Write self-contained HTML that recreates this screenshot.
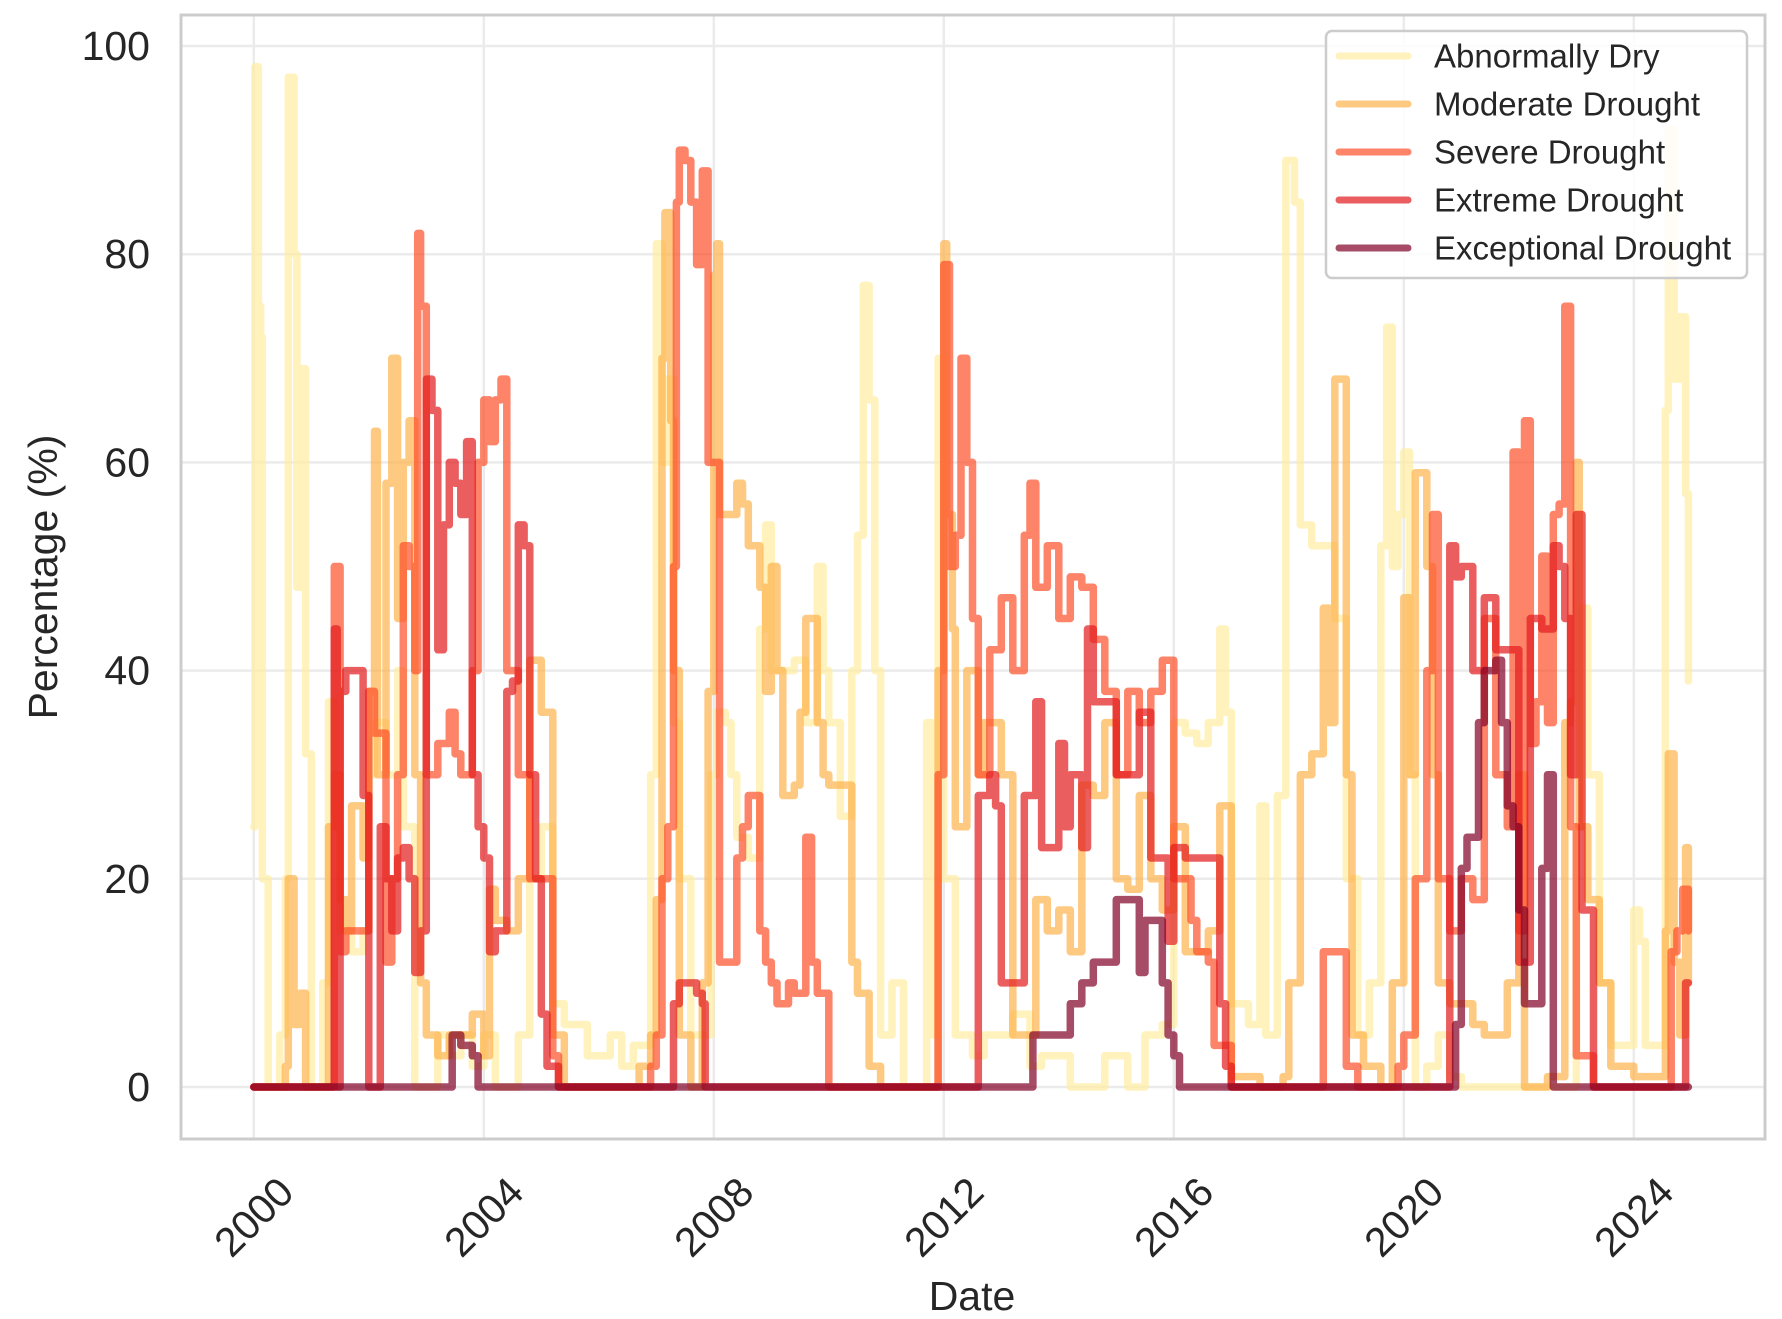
<!DOCTYPE html>
<html><head><meta charset="utf-8"><style>
html,body{margin:0;padding:0;background:#fff;}
svg{display:block;font-family:"Liberation Sans",Arial,sans-serif;}
</style></head><body>
<svg id="chart" width="1782" height="1319" viewBox="0 0 1782 1319">
<rect x="0" y="0" width="1782" height="1319" fill="#fff"/>
<g id="grid"></g>
<g id="series"></g>
<rect x="181" y="15" width="1584" height="1124" fill="none" stroke="#cccccc" stroke-width="3"/>
<g id="yticks"></g>
<g id="xticks"></g>
<text x="43" y="577" transform="rotate(-90 43 577)" text-anchor="middle" dominant-baseline="central" font-size="41" fill="#262626">Percentage (%)</text>
<text x="972" y="1296" text-anchor="middle" dominant-baseline="central" font-size="41" fill="#262626">Date</text>
<g id="legend">
<rect x="1326" y="31" width="421" height="247" rx="6" fill="#fff" fill-opacity="0.85" stroke="#cccccc" stroke-width="2.5"/>
</g>
</svg>
<script>
const seriesNames = ["Abnormally Dry","Moderate Drought","Severe Drought","Extreme Drought","Exceptional Drought"];
const seriesColors = ["#ffeda0","#feb24c","#fc4e2a","#e31a1c","#800026"];
const yTicks = [0,20,40,60,80,100];
const xTicks = [2000,2004,2008,2012,2016,2020,2024];
const abnormallyDry = [[2000.0,25],[2000.02,98],[2000.08,75],[2000.12,72],[2000.15,20],[2000.25,0],[2000.4,0],[2000.45,5],[2000.55,20],[2000.6,97],[2000.7,80],[2000.75,48],[2000.8,69],[2000.9,32],[2001.0,0],[2001.2,10],[2001.3,37],[2001.4,25],[2001.5,15],[2001.7,13],[2001.9,15],[2002.0,30],[2002.1,35],[2002.3,30],[2002.5,40],[2002.6,25],[2002.8,0],[2003.0,0],[2003.2,5],[2003.4,3],[2003.6,5],[2003.8,2],[2004.0,5],[2004.2,0],[2004.4,0],[2004.6,5],[2004.8,20],[2005.0,25],[2005.2,8],[2005.4,6],[2005.6,6],[2005.8,3],[2006.0,3],[2006.2,5],[2006.4,2],[2006.6,4],[2006.8,4],[2006.9,30],[2007.0,81],[2007.1,60],[2007.2,68],[2007.3,35],[2007.4,20],[2007.6,5],[2007.8,5],[2007.95,30],[2008.05,36],[2008.2,35],[2008.3,30],[2008.4,24],[2008.6,22],[2008.8,44],[2008.9,54],[2009.0,40],[2009.2,40],[2009.4,41],[2009.6,35],[2009.8,50],[2009.9,40],[2010.0,35],[2010.2,26],[2010.4,40],[2010.5,53],[2010.6,77],[2010.7,66],[2010.8,40],[2010.9,5],[2011.1,10],[2011.3,0],[2011.5,0],[2011.7,35],[2011.8,5],[2011.9,70],[2012.0,20],[2012.2,5],[2012.5,3],[2012.7,5],[2013.0,5],[2013.2,7],[2013.5,2],[2013.7,3],[2014.0,3],[2014.2,0],[2014.5,0],[2014.8,3],[2015.0,3],[2015.2,0],[2015.5,5],[2015.8,6],[2016.0,35],[2016.2,34],[2016.4,33],[2016.6,35],[2016.8,44],[2016.9,36],[2017.0,8],[2017.3,6],[2017.5,27],[2017.6,5],[2017.8,28],[2017.95,89],[2018.1,85],[2018.2,54],[2018.4,52],[2018.6,52],[2018.8,45],[2018.95,45],[2019.0,20],[2019.2,5],[2019.4,10],[2019.5,10],[2019.6,52],[2019.7,73],[2019.8,50],[2019.9,55],[2020.0,61],[2020.1,30],[2020.2,0],[2020.4,2],[2020.6,5],[2020.8,1],[2021.0,0],[2022.8,0],[2023.0,25],[2023.1,46],[2023.2,30],[2023.4,10],[2023.6,4],[2023.8,4],[2024.0,17],[2024.1,14],[2024.2,4],[2024.4,4],[2024.55,65],[2024.6,92],[2024.7,68],[2024.8,74],[2024.9,57],[2024.95,39]];
const moderateDrought = [[2000,0],[2000.55,2],[2000.6,20],[2000.7,6],[2000.8,9],[2000.9,0],[2001.2,0],[2001.3,25],[2001.4,30],[2001.5,18],[2001.6,15],[2001.7,27],[2001.8,27],[2001.9,22],[2002.0,38],[2002.1,63],[2002.15,30],[2002.3,58],[2002.4,70],[2002.5,45],[2002.6,60],[2002.7,64],[2002.8,30],[2002.9,10],[2003.0,5],[2003.2,3],[2003.4,5],[2003.6,5],[2003.8,7],[2004.0,3],[2004.1,19],[2004.2,16],[2004.4,15],[2004.6,20],[2004.8,41],[2005.0,36],[2005.1,36],[2005.2,5],[2005.4,0],[2006.5,0],[2006.7,2],[2006.9,5],[2007.0,18],[2007.1,70],[2007.15,84],[2007.25,64],[2007.3,40],[2007.4,5],[2007.6,0],[2007.8,10],[2007.9,38],[2008.0,78],[2008.05,81],[2008.1,55],[2008.3,55],[2008.4,58],[2008.5,56],[2008.6,52],[2008.8,48],[2008.9,38],[2009.0,50],[2009.1,40],[2009.2,28],[2009.4,29],[2009.5,36],[2009.6,45],[2009.8,35],[2009.9,30],[2010.0,29],[2010.3,29],[2010.4,12],[2010.5,9],[2010.7,2],[2010.9,0],[2011.8,0],[2011.9,40],[2012.0,81],[2012.05,55],[2012.15,44],[2012.2,25],[2012.4,40],[2012.6,30],[2012.7,35],[2012.8,35],[2013.0,30],[2013.2,5],[2013.4,5],[2013.6,18],[2013.8,15],[2014.0,17],[2014.2,13],[2014.4,29],[2014.6,28],[2014.8,35],[2015.0,20],[2015.2,19],[2015.4,28],[2015.6,20],[2015.8,17],[2016.0,25],[2016.2,13],[2016.4,13],[2016.6,15],[2016.8,27],[2016.9,27],[2017.0,1],[2017.5,0],[2017.9,1],[2018.0,10],[2018.2,30],[2018.4,32],[2018.6,46],[2018.7,35],[2018.8,68],[2018.9,68],[2019.0,30],[2019.1,5],[2019.3,2],[2019.6,0],[2019.8,10],[2020.0,47],[2020.1,30],[2020.2,59],[2020.4,50],[2020.5,30],[2020.6,10],[2020.8,8],[2021.0,8],[2021.2,6],[2021.4,5],[2021.6,5],[2021.8,10],[2022.0,30],[2022.1,0],[2022.5,1],[2022.7,1],[2022.8,35],[2022.9,37],[2023.0,60],[2023.05,25],[2023.2,18],[2023.4,10],[2023.6,2],[2024.0,1],[2024.4,1],[2024.55,15],[2024.6,32],[2024.7,12],[2024.8,5],[2024.9,23],[2024.95,10]];
const severeDrought = [[2000,0],[2001.3,0],[2001.4,50],[2001.5,13],[2001.6,15],[2001.8,15],[2002.0,38],[2002.1,34],[2002.3,12],[2002.4,20],[2002.5,30],[2002.6,52],[2002.7,50],[2002.8,40],[2002.85,82],[2002.9,75],[2003.0,30],[2003.2,33],[2003.4,36],[2003.5,32],[2003.6,30],[2003.8,40],[2003.9,60],[2004.0,66],[2004.1,62],[2004.2,66],[2004.3,68],[2004.4,40],[2004.6,30],[2004.8,20],[2005.0,20],[2005.2,3],[2005.3,0],[2006.8,0],[2006.9,2],[2007.0,5],[2007.1,20],[2007.2,25],[2007.3,50],[2007.35,85],[2007.4,90],[2007.5,89],[2007.6,85],[2007.7,79],[2007.8,88],[2007.9,60],[2008.0,60],[2008.1,12],[2008.3,12],[2008.4,22],[2008.5,25],[2008.6,28],[2008.8,15],[2008.9,12],[2009.0,10],[2009.1,8],[2009.3,10],[2009.4,9],[2009.6,24],[2009.7,12],[2009.8,9],[2010.0,0],[2011.8,0],[2011.9,30],[2012.0,79],[2012.1,50],[2012.2,53],[2012.3,70],[2012.4,60],[2012.5,45],[2012.6,30],[2012.8,42],[2013.0,47],[2013.2,40],[2013.4,53],[2013.5,58],[2013.6,48],[2013.8,52],[2014.0,45],[2014.2,49],[2014.4,48],[2014.6,43],[2014.8,38],[2015.0,30],[2015.2,38],[2015.4,35],[2015.6,38],[2015.8,41],[2016.0,20],[2016.2,20],[2016.3,16],[2016.4,13],[2016.6,12],[2016.7,4],[2017.0,0],[2018.5,0],[2018.6,13],[2018.8,13],[2019.0,2],[2019.2,0],[2019.8,0],[2019.9,2],[2020.0,5],[2020.2,20],[2020.4,40],[2020.5,55],[2020.6,20],[2020.8,15],[2021.0,20],[2021.2,18],[2021.4,45],[2021.6,30],[2021.8,25],[2021.9,61],[2022.0,15],[2022.1,64],[2022.2,33],[2022.3,37],[2022.4,51],[2022.5,35],[2022.6,55],[2022.7,56],[2022.8,75],[2022.9,25],[2023.0,3],[2023.2,3],[2023.3,0],[2024.5,0],[2024.65,13],[2024.75,15],[2024.85,19],[2024.95,15]];
const extremeDrought = [[2000,0],[2001.35,0],[2001.4,44],[2001.45,0],[2001.5,38],[2001.6,40],[2001.8,40],[2001.9,28],[2002.0,0],[2002.1,0],[2002.2,25],[2002.3,20],[2002.4,15],[2002.5,22],[2002.6,23],[2002.7,20],[2002.8,11],[2002.9,15],[2003.0,68],[2003.1,65],[2003.2,42],[2003.3,54],[2003.4,60],[2003.5,58],[2003.6,55],[2003.7,62],[2003.8,30],[2003.9,25],[2004.0,22],[2004.1,13],[2004.2,15],[2004.4,38],[2004.5,39],[2004.6,54],[2004.7,52],[2004.8,30],[2004.9,20],[2005.0,7],[2005.1,2],[2005.3,0],[2007.2,0],[2007.3,8],[2007.4,10],[2007.6,10],[2007.7,9],[2007.8,8],[2007.85,0],[2012.4,0],[2012.6,28],[2012.8,30],[2012.9,27],[2013.0,10],[2013.2,10],[2013.4,28],[2013.6,37],[2013.7,23],[2013.9,23],[2014.0,33],[2014.1,25],[2014.2,30],[2014.4,23],[2014.5,44],[2014.6,37],[2014.8,37],[2015.0,30],[2015.2,30],[2015.4,36],[2015.6,22],[2015.8,22],[2015.9,14],[2016.0,23],[2016.2,22],[2016.6,22],[2016.8,8],[2016.9,2],[2017.0,0],[2020.7,0],[2020.8,52],[2020.9,49],[2021.0,50],[2021.2,40],[2021.4,47],[2021.6,42],[2021.8,42],[2022.0,12],[2022.2,45],[2022.4,44],[2022.6,52],[2022.7,50],[2022.8,45],[2022.9,30],[2023.0,55],[2023.1,17],[2023.3,0],[2024.8,0],[2024.9,10],[2024.95,10]];
const exceptionalDrought = [[2000,0],[2003.4,0],[2003.45,5],[2003.6,4],[2003.8,3],[2003.9,0],[2013.5,0],[2013.55,5],[2014.0,5],[2014.2,8],[2014.4,10],[2014.6,12],[2014.8,12],[2015.0,18],[2015.2,18],[2015.4,11],[2015.5,16],[2015.7,16],[2015.8,10],[2015.9,5],[2016.0,3],[2016.1,0],[2020.8,0],[2020.9,6],[2021.0,21],[2021.1,24],[2021.3,35],[2021.4,40],[2021.6,41],[2021.7,35],[2021.8,27],[2021.9,25],[2022.0,17],[2022.1,8],[2022.3,8],[2022.4,21],[2022.5,30],[2022.6,0],[2024.95,0]];
const allSeries = [abnormallyDry, moderateDrought, severeDrought, extremeDrought, exceptionalDrought];

const NS = "http://www.w3.org/2000/svg";
function xScale(yr){ return 253.8 + (yr - 2000) * 57.5; }
function yScale(v){ return 1087 - v * 10.41; }
function mk(tag, attrs, parent){ const e = document.createElementNS(NS, tag); for (const k in attrs) e.setAttribute(k, attrs[k]); parent.appendChild(e); return e; }

const grid = document.getElementById('grid');
yTicks.forEach(function(t){
  const l = mk('line', {x1:181, x2:1765, y1:yScale(t), y2:yScale(t), stroke:'#ebebeb', 'stroke-width':2.5}, grid);
  
  
  const tx = mk('text', {x:150, y:yScale(t), 'text-anchor':'end', 'dominant-baseline':'central', 'font-size':41, fill:'#262626'}, document.getElementById('yticks'));
  tx.textContent = t;
  
  
});
xTicks.forEach(function(t){
  const x = xScale(t);
  const l = mk('line', {x1:x, x2:x, y1:15, y2:1139, stroke:'#ebebeb', 'stroke-width':2.5}, grid);
  
  
  const tx = mk('text', {x:x, y:1217, 'text-anchor':'middle', 'dominant-baseline':'central', 'font-size':41, fill:'#262626', transform:'rotate(-45 '+x+' 1217)'}, document.getElementById('xticks'));
  tx.textContent = t;
  
  
});

const sg = document.getElementById('series');
allSeries.forEach(function(data, i){
  let d = '';
  data.forEach(function(p, j){
    const x = xScale(p[0]).toFixed(1), y = yScale(p[1]).toFixed(1);
    if (j === 0) { d += 'M' + x + ',' + y; }
    else { d += ' H' + x + ' V' + y; }
  });
  const pl = mk('path', {d:d, fill:'none', stroke:seriesColors[i], 'stroke-opacity':0.7, 'stroke-width':7.5, 'stroke-linejoin':'round', 'stroke-linecap':'round'}, sg);
  
  
});

const lg = document.getElementById('legend');
seriesNames.forEach(function(n, i){
  const y = 56 + i * 48;
  const l = mk('line', {x1:1339, x2:1408, y1:y, y2:y, stroke:seriesColors[i], 'stroke-opacity':0.7, 'stroke-width':7, 'stroke-linecap':'round'}, lg);
  
  
  const t = mk('text', {x:1434, y:y, 'dominant-baseline':'central', 'font-size':33, fill:'#262626'}, lg);
  t.textContent = n;
  
  
});
</script>
</body></html>
